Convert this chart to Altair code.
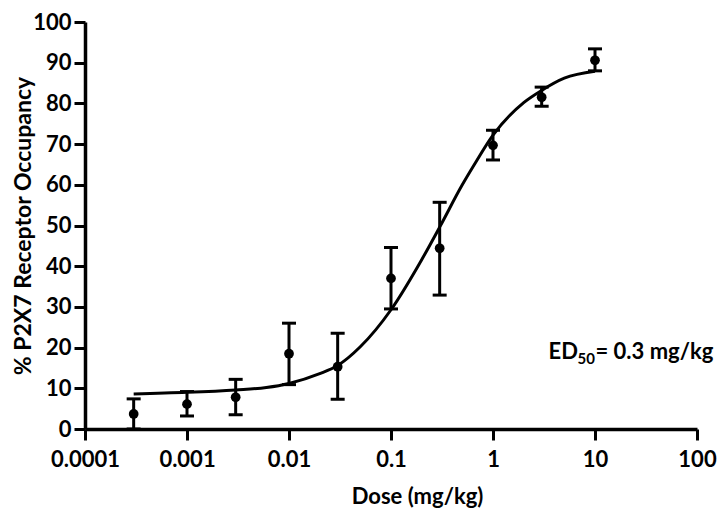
import altair as alt
import pandas as pd

dose = [0.0003, 0.001, 0.003, 0.01, 0.03, 0.1, 0.3, 1, 3, 10]
occupancy = [3.7, 6.1, 7.8, 18.5, 15.3, 37.0, 44.4, 69.7, 81.5, 90.6]
err_low = [0.0, 3.2, 3.5, 10.9, 7.3, 29.5, 32.9, 66.1, 79.3, 88.0]
err_high = [7.4, 9.2, 12.2, 26.0, 23.5, 44.6, 55.7, 73.4, 84.0, 93.4]

# Fitted dose-response curve
fit_dose = [0.0003, 0.001, 0.003, 0.006, 0.01, 0.02, 0.03, 0.05, 0.1, 0.2,
            0.3, 0.5, 0.65, 1, 2, 3, 5, 10]
fit_occ = [8.6, 9.0, 9.6, 10.2, 11.2, 13.6, 15.6, 20.2, 29.3, 41.6,
           49.6, 60.0, 64.8, 72.2, 80.2, 83.2, 86.2, 87.9]

x_ticks = [0.0001, 0.001, 0.01, 0.1, 1, 10, 100]
y_ticks = [0, 10, 20, 30, 40, 50, 60, 70, 80, 90, 100]

# Annotation
ann_dose = [3.5]
ann_occ = [17.3]
ann_main = ["ED"]
ann_sub = ["50"]
ann_rest = ["= 0.3 mg/kg"]

FONT = "Lato"

pts = pd.DataFrame({"dose": dose, "occ": occupancy, "lo": err_low, "hi": err_high})
fit = pd.DataFrame({"dose": fit_dose, "occ": fit_occ})
ann = pd.DataFrame({"dose": ann_dose, "occ": ann_occ, "main": ann_main,
                    "sub": ann_sub, "rest": ann_rest})

W, H = 612, 407
PAD_L, PAD_T = 77, 14
PAD_R = 710 - PAD_L - W

xscale = alt.Scale(type="log", domain=[0.0001, 100], nice=False)
yscale = alt.Scale(domain=[0, 100], nice=False, zero=True)

xaxis = alt.Axis(
    values=x_ticks, format="~g", grid=False,
    labelFont=FONT, labelFontSize=22, labelFontWeight="bold", labelColor="black",
    labelFlush=False, labelOverlap=False, labelPadding=9,
    tickSize=11, tickWidth=3, tickColor="black",
    domainWidth=3.5, domainColor="black",
    title="Dose (mg/kg)", titleFont=FONT, titleFontSize=22, titleFontWeight="bold",
    titleColor="black", titleX=332, titleY=74, titleAlign="center",
    titleBaseline="alphabetic",
)
yaxis = alt.Axis(
    values=y_ticks, format="d", grid=False,
    labelFont=FONT, labelFontSize=22, labelFontWeight="bold", labelColor="black",
    labelFlush=False, labelOverlap=False, labelPadding=3,
    tickSize=11, tickWidth=3, tickColor="black",
    domainWidth=3.5, domainColor="black",
    title="% P2X7 Receptor Occupancy", titleFont=FONT, titleFontSize=23,
    titleFontWeight="bold", titleColor="black",
    titleX=-55, titleY=H / 2, titleAngle=-90, titleAlign="center",
    titleBaseline="alphabetic",
)

base_pts = alt.Chart(pts)

curve = alt.Chart(fit).mark_line(color="black", strokeWidth=3, interpolate="monotone").encode(
    x=alt.X("dose:Q", scale=xscale, axis=xaxis),
    y=alt.Y("occ:Q", scale=yscale, axis=yaxis),
)

stems = base_pts.mark_rule(color="black", strokeWidth=3).encode(
    x="dose:Q", y="lo:Q", y2="hi:Q"
)
cap_hi = base_pts.mark_tick(color="black", orient="horizontal", size=14, thickness=3, opacity=1).encode(
    x="dose:Q", y="hi:Q"
)
cap_lo = base_pts.mark_tick(color="black", orient="horizontal", size=14, thickness=3, opacity=1).encode(
    x="dose:Q", y="lo:Q"
)
dots = base_pts.mark_circle(color="black", size=95, opacity=1).encode(
    x="dose:Q", y="occ:Q"
)

t_main = alt.Chart(ann).mark_text(
    font=FONT, fontSize=22, fontWeight="bold", color="black",
    align="left", baseline="alphabetic"
).encode(x="dose:Q", y="occ:Q", text="main:N")
t_sub = alt.Chart(ann).mark_text(
    font=FONT, fontSize=15, fontWeight="bold", color="black",
    align="left", baseline="alphabetic", dx=29, dy=5
).encode(x="dose:Q", y="occ:Q", text="sub:N")
t_rest = alt.Chart(ann).mark_text(
    font=FONT, fontSize=22, fontWeight="bold", color="black",
    align="left", baseline="alphabetic", dx=47
).encode(x="dose:Q", y="occ:Q", text="rest:N")

chart = alt.layer(curve, stems, cap_hi, cap_lo, dots, t_main, t_sub, t_rest).properties(
    width=W, height=H,
    padding={"left": PAD_L, "top": PAD_T, "right": PAD_R, "bottom": 80},
    autosize=alt.AutoSizeParams(type="none"),
    background="white",
).configure_view(stroke=None)

chart.save("out.html", embed_options={"renderer": "svg", "actions": False})
